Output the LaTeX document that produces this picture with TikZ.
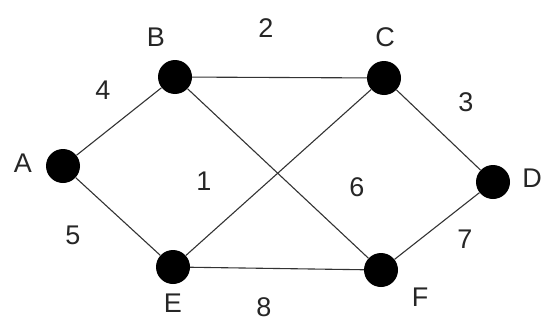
\documentclass[tikz,border=0pt]{standalone}
\usepackage{fontspec}
\setmainfont{Liberation Sans}
\begin{document}
\begin{tikzpicture}[x=1pt,y=-1pt,
  vertex/.style={circle,fill=black,draw=none,minimum size=34pt,inner sep=0pt},
  edge/.style={draw=black!80,line width=1.1pt},
  lbl/.style={font=\fontsize{27}{27}\selectfont,inner sep=0pt,text=black!85}]
  \useasboundingbox (0,0) rectangle (543,324);
  % vertices
  \node[vertex] (A) at (63,166) {};
  \node[vertex] (B) at (175,77) {};
  \node[vertex] (C) at (384,78) {};
  \node[vertex] (D) at (493,182) {};
  \node[vertex] (E) at (173,267) {};
  \node[vertex] (F) at (381,270) {};
  % edges
  \draw[edge] (A) -- (B);
  \draw[edge] (A) -- (E);
  \draw[edge] (B) -- (C);
  \draw[edge] (B) -- (F);
  \draw[edge] (C) -- (E);
  \draw[edge] (C) -- (D);
  \draw[edge] (E) -- (F);
  \draw[edge] (F) -- (D);
  % vertex names
  \node[lbl] (lA) at (23,163) {A};
  \node[lbl] (lB) at (156,37) {B};
  \node[lbl] (lC) at (385,37) {C};
  \node[lbl] (lD) at (532,178) {D};
  \node[lbl] (lE) at (173,303) {E};
  \node[lbl] (lF) at (420,297) {F};
  % edge weights
  \node[lbl] (w4) at (103,90) {4};
  \node[lbl] (w2) at (266,28) {2};
  \node[lbl] (w3) at (466,102) {3};
  \node[lbl] (w1) at (204,181) {1};
  \node[lbl] (w6) at (357,187) {6};
  \node[lbl] (w5) at (73,235) {5};
  \node[lbl] (w7) at (465,239) {7};
  \node[lbl] (w8) at (264,307) {8};
\end{tikzpicture}
\end{document}
